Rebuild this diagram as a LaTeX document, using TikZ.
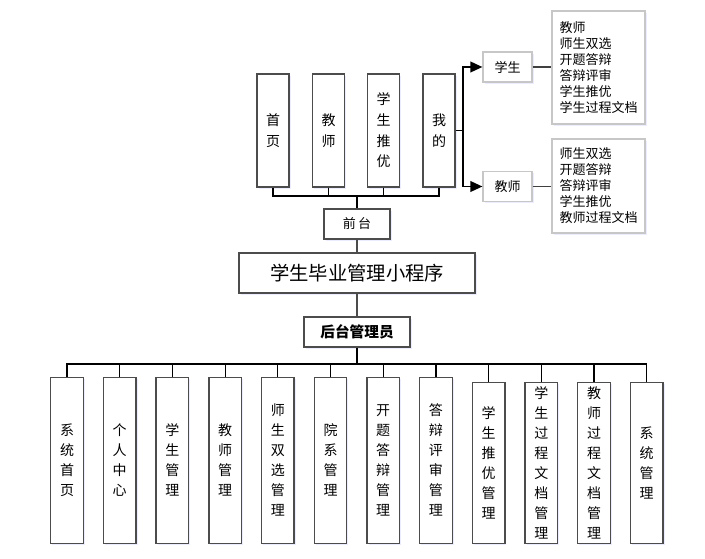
\documentclass[tikz,border=0pt]{standalone}
\usepackage{fontspec}
\setmainfont{Noto Sans CJK SC}
\usetikzlibrary{arrows.meta,shadows}

\tikzset{
  mbox/.style={draw=black!70, line width=1pt, fill=white, inner sep=0pt, align=center,
    font=\fontsize{10.5}{15}\selectfont},
  lbox/.style={draw=black!22, line width=0.9pt, fill=white, inner sep=0pt},
  soft/.style={drop shadow={shadow xshift=1.2pt, shadow yshift=-1.2pt, fill=blue!30!white, opacity=0.25}},
}

\begin{document}
\begin{tikzpicture}[x=0.75pt, y=-0.75pt]
    \useasboundingbox (0,0) rectangle (705,559);
    % centre column
    \node (front) at (357,224) [mbox, soft, minimum width=49.5pt, minimum height=22.5pt, font=\fontsize{9.75}{12}\selectfont] {前\,台};
    \node (app) at (357,273) [mbox, soft, minimum width=177pt, minimum height=30pt, font=\fontsize{14.5}{16}\selectfont] {学生毕业管理小程序};
    \node (admin) at (357,332) [mbox, soft, minimum width=79.5pt, minimum height=22.5pt, font=\fontsize{11}{13}\selectfont\bfseries] {后台管理员};
    % front menu
    \foreach \n/\x/\lbl in {1/273/{首\\页}, 2/328.5/{教\\师}, 3/383.5/{学\\生\\推\\优}, 4/439/{我\\的}}
        \node (t\n) at (\x,130.5) [mbox, soft, minimum width=24pt, minimum height=84.75pt, font=\fontsize{10.5}{15.5}\selectfont] {\lbl};
    % admin menu
    \foreach \n/\h/\lbl in {1/124.5/{系\\统\\首\\页}, 2/124.5/{个\\人\\中\\心}, 3/124.5/{学\\生\\管\\理},
        4/124.5/{教\\师\\管\\理}, 5/124.5/{师\\生\\双\\选\\管\\理}, 6/124.5/{院\\系\\管\\理},
        7/124.5/{开\\题\\答\\辩\\管\\理}, 8/124.5/{答\\辩\\评\\审\\管\\理}, 9/120.75/{学\\生\\推\\优\\管\\理},
        10/120.75/{学\\生\\过\\程\\文\\档\\管\\理}, 11/120.75/{教\\师\\过\\程\\文\\档\\管\\理}, 12/120.75/{系\\统\\管\\理}}
        \node (b\n) at ({67+(\n-1)*52.7},544) [mbox, soft, anchor=south, minimum width=24.4pt, minimum height=\h pt] {\lbl};
    % user roles
    \node (stu) at (507.5,67) [lbox, soft, minimum width=36.75pt, minimum height=22.5pt, font=\fontsize{9.75}{12}\selectfont] {学生};
    \node (tch) at (507.5,186.5) [lbox, soft, minimum width=36.75pt, minimum height=22pt, font=\fontsize{9.75}{12}\selectfont] {教师};
    \node (stulist) at (598.5,67.5) [lbox, soft, minimum width=69.75pt, minimum height=84.75pt, align=left, font=\fontsize{9.75}{12}\selectfont]
        {教师\\师生双选\\开题答辩\\答辩评审\\学生推优\\学生过程文档};
    \node (tchlist) at (598.5,186) [lbox, soft, minimum width=69.75pt, minimum height=70.5pt, align=left, font=\fontsize{9.75}{12}\selectfont]
        {师生双选\\开题答辩\\答辩评审\\学生推优\\教师过程文档};
    % connectors
    \coordinate (tbus) at (357,196);
    \coordinate (bbus) at (357,364);
    \coordinate (fork) at (463,130.5);
    \draw [line width=1.6pt] (front.north) -- (tbus);
    \draw [line width=0.9pt] (t1.south) -- (t1.south |- tbus) -- (t4.south |- tbus) -- (t4.south);
    \foreach \n in {2,3}
        \draw [line width=0.9pt] (t\n.south) -- (t\n.south |- tbus);
    \draw [line width=0.9pt, black!70] (front.south) -- (app.north);
    \draw [line width=0.9pt, black!70] (app.south) -- (admin.north);
    \draw [line width=1.6pt] (admin.south) -- (bbus);
    \draw [line width=0.9pt] (b1.north) -- (b1.north |- bbus) -- (b12.north |- bbus) -- (b12.north);
    \foreach \n in {2,...,11}
        \draw [line width=0.9pt] (b\n.north) -- (b\n.north |- bbus);
    \draw [line width=1.3pt] (t4.east) -- (fork);
    \draw [line width=1.3pt, -{Triangle[length=9pt,width=8pt]}] (fork) |- (stu.west);
    \draw [line width=1.3pt, -{Triangle[length=9pt,width=8pt]}] (fork) |- (tch.west);
    \draw [line width=0.9pt, black!75] (stu.east) -- (stu.east -| stulist.west);
    \draw [line width=0.9pt, black!75] (tch.east) -- (tch.east -| tchlist.west);
\end{tikzpicture}
\end{document}
